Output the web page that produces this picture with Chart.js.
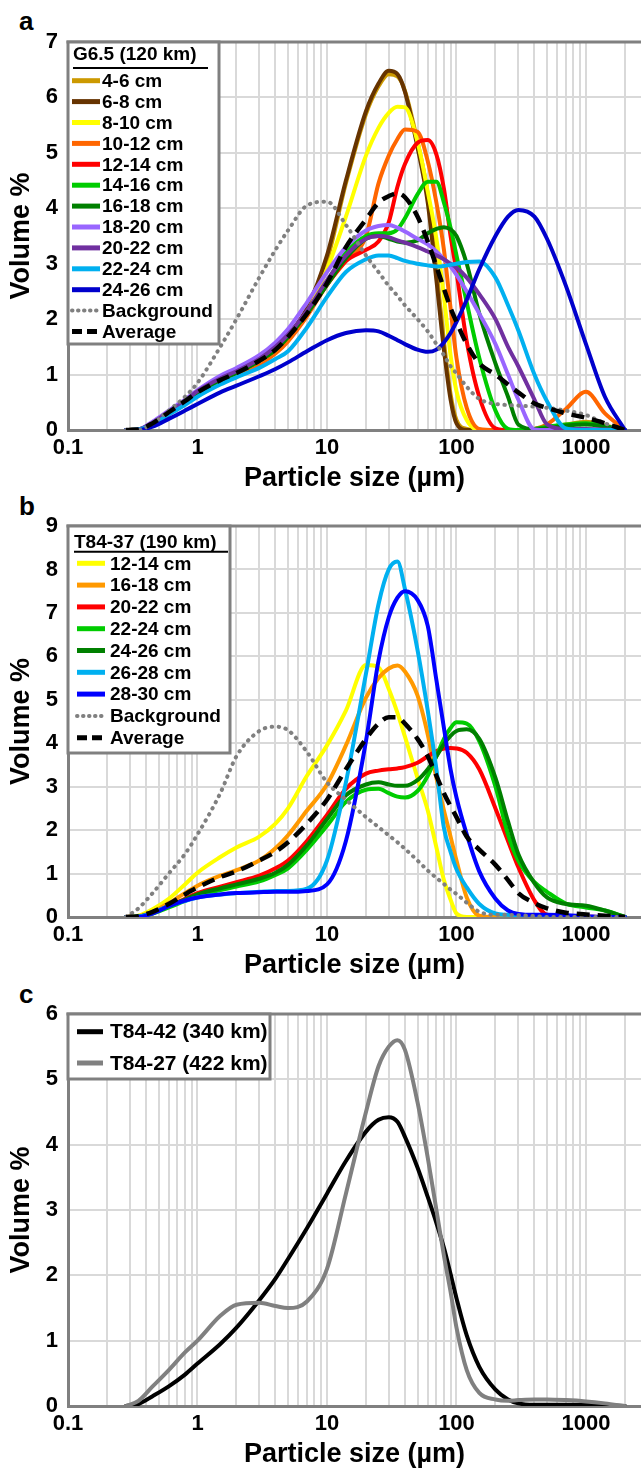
<!DOCTYPE html>
<html>
<head>
<meta charset="utf-8">
<script src="https://cdn.jsdelivr.net/npm/chart.js@4.4.1/dist/chart.umd.min.js"></script>
<style>
  html, body { margin: 0; padding: 0; background: #fff; width: 641px; height: 1469px; overflow: hidden; }
  canvas { position: absolute; left: 0; }
  .tag { position: absolute; left: 19px; font: bold 26px "Liberation Sans", Arial, sans-serif; line-height: 26px; color: #000; }
</style>
</head>
<body>
<div class="tag" style="top:8px">a</div>
<div class="tag" style="top:493px">b</div>
<div class="tag" style="top:981px">c</div>
<canvas id="chartA" width="641" height="492" style="top:0px;width:641px;height:492px"></canvas>
<canvas id="chartB" width="641" height="495" style="top:484px;width:641px;height:495px"></canvas>
<canvas id="chartC" width="641" height="496" style="top:972px;width:641px;height:496px"></canvas>
<script>
// Particle size classes (µm) shared by every distribution
const sizes = [0.28, 0.35, 0.45, 0.6, 0.8, 1, 1.5, 2, 3, 4, 5, 7, 10, 14, 20, 25, 30, 35, 40, 50,
               60, 70, 80, 90, 100, 120, 150, 200, 250, 300, 400, 500, 700, 1000, 1400, 2000];
const xTickLabels = ['0.1', '1', '10', '100', '1000'];

// ---- Core G6.5 (120 km), volume % per size class ----
const g65Labels = ['4-6 cm', '6-8 cm', '8-10 cm', '10-12 cm', '12-14 cm', '14-16 cm', '16-18 cm',
                   '18-20 cm', '20-22 cm', '22-24 cm', '24-26 cm'];
const g65_4_6   = [0,0.01,0.12,0.32,0.52,0.68,0.9,1.03,1.25,1.45,1.68,2.15,3.05,4.45,5.7,6.2,6.42,6.38,6.12,5.2,4.25,2.9,1.6,0.65,0.18,0.02,0,0,0,0,0.02,0.05,0.1,0.15,0.08,0];
const g65_6_8   = [0,0.01,0.12,0.32,0.52,0.68,0.9,1.03,1.25,1.45,1.7,2.2,3.15,4.5,5.75,6.25,6.48,6.42,6.1,5.1,4.1,2.7,1.45,0.55,0.12,0,0,0,0,0,0,0,0,0,0,0];
const g65_8_10  = [0,0.01,0.12,0.32,0.52,0.68,0.9,1.03,1.25,1.45,1.68,2.12,2.9,3.85,4.95,5.45,5.72,5.83,5.82,5.2,4.3,3.45,2.4,1.35,0.7,0.18,0,0,0,0,0,0,0,0,0,0];
const g65_10_12 = [0,0.01,0.1,0.28,0.47,0.63,0.85,0.98,1.18,1.38,1.6,2.05,2.62,3.05,3.5,4.45,4.95,5.25,5.42,5.38,4.85,4.1,3.25,2.2,1.3,0.4,0.02,0,0,0,0.02,0.1,0.38,0.69,0.3,0];
const g65_12_14 = [0,0.01,0.12,0.32,0.52,0.68,0.9,1.03,1.25,1.45,1.68,2.1,2.62,3.05,3.25,3.4,3.75,4.39,4.8,5.18,5.23,4.97,4.35,3.5,2.85,1.6,0.6,0.03,0,0,0,0,0,0,0,0];
const g65_14_16 = [0,0.01,0.12,0.32,0.52,0.68,0.9,1.03,1.25,1.45,1.68,2.12,2.68,3.2,3.5,3.55,3.55,3.62,3.82,4.25,4.48,4.48,4.1,3.65,3.15,2.3,1.3,0.35,0.02,0,0.02,0.06,0.1,0.12,0.07,0];
const g65_16_18 = [0,0.01,0.12,0.32,0.52,0.68,0.9,1.03,1.25,1.45,1.68,2.1,2.62,3.1,3.45,3.5,3.45,3.4,3.38,3.42,3.55,3.63,3.66,3.62,3.5,3.0,2.1,1.2,0.6,0.1,0.02,0.03,0.08,0.1,0.06,0];
const g65_18_20 = [0,0.01,0.15,0.35,0.55,0.72,0.98,1.12,1.35,1.58,1.82,2.3,2.85,3.3,3.6,3.68,3.7,3.65,3.58,3.45,3.35,3.22,3.08,2.95,2.8,2.5,2.1,1.55,1.0,0.55,0.01,0,0,0,0,0];
const g65_20_22 = [0,0.01,0.13,0.33,0.52,0.7,0.93,1.06,1.28,1.5,1.72,2.15,2.7,3.15,3.45,3.5,3.48,3.42,3.38,3.3,3.22,3.15,3.08,3.0,2.93,2.75,2.45,2.0,1.5,1.15,0.55,0.1,0.02,0.02,0.01,0];
const g65_22_24 = [0,0.01,0.1,0.28,0.45,0.6,0.82,0.95,1.12,1.28,1.42,1.85,2.4,2.85,3.08,3.15,3.15,3.1,3.05,3.0,2.97,2.95,2.96,2.98,3.0,3.03,3.04,2.75,2.25,1.8,1.0,0.52,0.03,0,0,0];
const g65_24_26 = [0,0,0.06,0.2,0.35,0.47,0.68,0.8,0.97,1.1,1.22,1.42,1.62,1.75,1.8,1.78,1.7,1.62,1.55,1.45,1.41,1.45,1.58,1.75,1.95,2.35,2.9,3.5,3.85,3.97,3.85,3.45,2.6,1.55,0.6,0];
const g65Background = [0,0,0.12,0.35,0.6,0.85,1.5,2.0,2.75,3.25,3.6,4.05,4.12,3.7,3.15,2.85,2.6,2.42,2.25,2.0,1.78,1.55,1.35,1.15,1.02,0.78,0.56,0.47,0.45,0.44,0.42,0.4,0.35,0.27,0.12,0];
const g65Average    = [0,0.01,0.12,0.32,0.52,0.68,0.9,1.03,1.25,1.45,1.68,2.1,2.65,3.3,3.8,4.1,4.22,4.27,4.2,3.85,3.4,2.95,2.55,2.2,1.95,1.55,1.2,1.0,0.82,0.68,0.48,0.4,0.3,0.22,0.12,0];

// ---- Core T84-37 (190 km) ----
const t37Labels = ['12-14 cm', '16-18 cm', '20-22 cm', '22-24 cm', '24-26 cm', '26-28 cm', '28-30 cm'];
const t37_12_14 = [0,0.03,0.18,0.42,0.75,1.02,1.38,1.6,1.85,2.15,2.5,3.25,3.95,4.75,5.8,5.75,5.25,4.7,4.15,3.2,2.45,1.6,0.85,0.4,0.08,0,0,0,0,0,0,0,0,0,0,0];
const t37_16_18 = [0,0.02,0.12,0.32,0.55,0.72,0.95,1.08,1.3,1.58,1.88,2.45,3.05,3.95,5.05,5.5,5.72,5.79,5.65,5.1,4.2,3.2,2.45,1.85,1.3,0.45,0.03,0,0,0,0,0,0,0,0,0];
const t37_20_22 = [0,0.01,0.1,0.25,0.42,0.55,0.7,0.8,0.95,1.12,1.3,1.75,2.35,2.95,3.3,3.37,3.4,3.42,3.45,3.55,3.7,3.82,3.88,3.89,3.88,3.78,3.4,2.5,1.75,1.15,0.38,0.05,0.02,0.01,0,0];
const t37_22_24 = [0,0.01,0.08,0.22,0.37,0.48,0.62,0.7,0.82,0.97,1.12,1.55,2.1,2.65,2.93,2.95,2.85,2.77,2.75,2.9,3.25,3.7,4.1,4.35,4.48,4.45,4.05,3.0,1.9,1.3,0.8,0.58,0.31,0.22,0.15,0];
const t37_24_26 = [0,0.01,0.1,0.25,0.4,0.52,0.66,0.75,0.88,1.02,1.2,1.65,2.25,2.8,3.05,3.1,3.05,3.02,3.02,3.15,3.4,3.7,3.98,4.17,4.28,4.32,4.1,3.2,2.2,1.45,0.78,0.45,0.3,0.26,0.15,0];
const t37_26_28 = [0,0.01,0.1,0.25,0.37,0.45,0.52,0.55,0.58,0.6,0.6,0.65,1.3,3.1,5.6,7.2,8.0,8.18,7.55,6.15,4.75,3.4,2.05,1.5,1.1,0.68,0.3,0.08,0.05,0.03,0.02,0,0,0,0,0];
const t37_28_30 = [0,0,0.08,0.25,0.38,0.45,0.52,0.55,0.57,0.58,0.58,0.6,0.75,1.75,4.05,5.9,6.9,7.35,7.5,7.3,6.7,5.45,4.35,3.4,2.75,1.9,1.05,0.42,0.15,0.07,0.05,0.05,0.04,0.02,0,0];
const t37Background = [0,0.2,0.55,1.0,1.45,1.9,2.85,3.7,4.28,4.38,4.3,3.8,3.1,2.7,2.3,2.07,1.88,1.72,1.57,1.3,1.07,0.9,0.76,0.63,0.53,0.33,0.12,0.05,0.05,0.04,0.02,0,0,0,0,0];
const t37Average    = [0,0.02,0.12,0.3,0.52,0.68,0.92,1.05,1.3,1.5,1.72,2.15,2.7,3.4,4.1,4.45,4.6,4.6,4.45,4.1,3.7,3.25,2.85,2.55,2.3,1.85,1.55,1.2,0.85,0.55,0.32,0.2,0.1,0.06,0.03,0];

// ---- Cores T84-42 (340 km) and T84-27 (422 km) ----
const farLabels = ['T84-42 (340 km)', 'T84-27 (422 km)'];
const t42 = [0,0.03,0.15,0.3,0.48,0.65,0.95,1.2,1.62,1.95,2.25,2.72,3.25,3.75,4.2,4.38,4.42,4.35,4.12,3.65,3.2,2.8,2.42,2.02,1.65,1.08,0.6,0.25,0.1,0.04,0.02,0.02,0.02,0.02,0.01,0];
const t27 = [0,0.08,0.3,0.55,0.82,1.0,1.38,1.55,1.58,1.53,1.5,1.6,2.1,3.25,4.5,5.2,5.5,5.6,5.45,4.65,3.8,3.0,2.3,1.75,1.2,0.55,0.2,0.1,0.08,0.09,0.1,0.1,0.09,0.07,0.04,0];

const FONT = '"Liberation Sans", Arial, Helvetica, sans-serif';
const AXIS_GREY = '#808080';
const GRID_GREY = '#d9d9d9';

// log-axis gridlines: 1..9 × each decade, plus 2000
const gridValues = [];
for (let e = -1; e <= 3; e++) {
  for (let m = 1; m <= 9; m++) gridValues.push(Number((m * Math.pow(10, e)).toPrecision(3)));
}
gridValues.push(2000);

function line(label, data, color, kind, idx, total) {
  const ds = {
    label, data, borderColor: color, backgroundColor: color,
    borderWidth: 4, pointRadius: 0, pointHoverRadius: 0, fill: false,
    cubicInterpolationMode: 'monotone', borderCapStyle: 'round', borderJoinStyle: 'round',
    order: total - idx
  };
  if (kind === 'dot') { ds.borderDash = [0.5, 6.5]; ds.borderCapStyle = 'round'; ds.borderWidth = 4; }
  if (kind === 'dash') { ds.borderDash = [13, 8]; ds.borderCapStyle = 'butt'; ds.borderWidth = 4.5; }
  ds.kind = kind || 'solid';
  return ds;
}

// Frame top edge + boxed legend drawn inside the plot
const legendBox = {
  id: 'legendBox',
  afterDraw(chart, args, o) {
    const { ctx, chartArea: ca } = chart;
    ctx.save();
    ctx.strokeStyle = AXIS_GREY;
    ctx.lineWidth = 3;
    ctx.beginPath(); ctx.moveTo(ca.left - 1.5, ca.top); ctx.lineTo(ca.right, ca.top); ctx.stroke();

    const [x0, y0, x1, y1] = o.box;
    ctx.fillStyle = '#fff';
    ctx.fillRect(x0, y0, x1 - x0, y1 - y0);
    ctx.strokeRect(x0, y0, x1 - x0, y1 - y0);

    ctx.font = 'bold ' + o.fontSize + 'px ' + FONT;
    ctx.textBaseline = 'middle';
    ctx.textAlign = 'left';
    if (o.title) {
      ctx.fillStyle = '#000';
      ctx.fillText(o.title, o.titleX, o.titleY);
      ctx.lineWidth = 2;
      ctx.strokeStyle = '#000';
      ctx.beginPath(); ctx.moveTo(o.underline[0], o.underline[2]); ctx.lineTo(o.underline[1], o.underline[2]); ctx.stroke();
    }
    chart.data.datasets.forEach((ds, i) => {
      const y = o.rowY0 + i * o.rowGap;
      ctx.save();
      ctx.strokeStyle = ds.borderColor;
      if (ds.kind === 'dot') { ctx.setLineDash([0.5, 5.5]); ctx.lineCap = 'round'; ctx.lineWidth = 4; }
      else if (ds.kind === 'dash') { ctx.setLineDash([10, 5]); ctx.lineCap = 'butt'; ctx.lineWidth = 5; }
      else { ctx.setLineDash([]); ctx.lineCap = 'butt'; ctx.lineWidth = 5; }
      ctx.beginPath(); ctx.moveTo(o.sample[0], y); ctx.lineTo(o.sample[1], y); ctx.stroke();
      ctx.restore();
      ctx.fillStyle = '#000';
      ctx.fillText(ds.label, o.textX, y + 1);
    });
    ctx.restore();
  }
};

function makeChart(id, datasets, yMax, legendOpts) {
  return new Chart(document.getElementById(id), {
    type: 'line',
    data: { labels: sizes, datasets },
    options: {
      responsive: false,
      animation: false,
      events: [],
      layout: { padding: { top: 42, left: 0, right: 0, bottom: 0 } },
      plugins: { legend: { display: false }, tooltip: { enabled: false }, legendBox: legendOpts },
      scales: {
        x: {
          type: 'logarithmic', min: 0.1, max: 2660,
          afterBuildTicks: s => { s.ticks = gridValues.map(v => ({ value: v })); },
          afterFit: s => { s.height = 62; },
          grid: { color: GRID_GREY, lineWidth: 2, drawTicks: false },
          border: { color: AXIS_GREY, width: 3 },
          ticks: {
            autoSkip: false, maxRotation: 0, padding: 5,
            color: '#000', font: { family: FONT, size: 22, weight: 'bold' },
            callback: v => (xTickLabels.includes(String(v)) ? String(v) : '')
          },
          title: { display: true, text: 'Particle size (µm)', color: '#000',
                   font: { family: FONT, size: 27, weight: 'bold', lineHeight: 1 }, padding: { top: 0, bottom: 0 } }
        },
        y: {
          min: 0, max: yMax,
          afterFit: s => { s.width = 68; },
          grid: { color: GRID_GREY, lineWidth: 2, drawTicks: false },
          border: { color: AXIS_GREY, width: 3 },
          ticks: { stepSize: 1, padding: 10, color: '#000', font: { family: FONT, size: 22, weight: 'bold' } },
          title: { display: true, text: 'Volume %', color: '#000',
                   font: { family: FONT, size: 27, weight: 'bold', lineHeight: 1 }, padding: { top: 8, bottom: 0 } }
        }
      }
    },
    plugins: [legendBox]
  });
}

// Panel a
const colorsA = ['#cc9900', '#663300', '#ffff00', '#ff6600', '#ff0000', '#00cc00', '#008000',
                 '#9966ff', '#7030a0', '#00b0f0', '#0000cc'];
const dataA = [g65_4_6, g65_6_8, g65_8_10, g65_10_12, g65_12_14, g65_14_16, g65_16_18,
               g65_18_20, g65_20_22, g65_22_24, g65_24_26];
const nA = dataA.length + 2;
const setsA = dataA.map((d, i) => line(g65Labels[i], d, colorsA[i], 'solid', i, nA));
setsA.push(line('Background', g65Background, '#808080', 'dot', nA - 2, nA));
setsA.push(line('Average', g65Average, '#000000', 'dash', nA - 1, nA));
makeChart('chartA', setsA, 7, {
  box: [68, 42, 219, 344], fontSize: 19,
  title: 'G6.5 (120 km)', titleX: 73, titleY: 55, underline: [73, 208, 68],
  rowY0: 80.7, rowGap: 20.9, sample: [72, 100], textX: 102
});

// Panel b
const colorsB = ['#ffff00', '#ff9900', '#ff0000', '#00cc00', '#008000', '#00b0f0', '#0000ff'];
const dataB = [t37_12_14, t37_16_18, t37_20_22, t37_22_24, t37_24_26, t37_26_28, t37_28_30];
const nB = dataB.length + 2;
const setsB = dataB.map((d, i) => line(t37Labels[i], d, colorsB[i], 'solid', i, nB));
setsB.push(line('Background', t37Background, '#808080', 'dot', nB - 2, nB));
setsB.push(line('Average', t37Average, '#000000', 'dash', nB - 1, nB));
makeChart('chartB', setsB, 9, {
  box: [68, 42, 230, 269], fontSize: 19,
  title: 'T84-37 (190 km)', titleX: 74, titleY: 58.7, underline: [74, 228, 67.7],
  rowY0: 79.3, rowGap: 21.8, sample: [77, 105], textX: 110
});

// Panel c
const setsC = [line(farLabels[0], t42, '#000000', 'solid', 0, 2),
               line(farLabels[1], t27, '#808080', 'solid', 1, 2)];
makeChart('chartC', setsC, 6, {
  box: [68, 42, 270, 107], fontSize: 21,
  title: null, rowY0: 59.7, rowGap: 31.3, sample: [77, 103], textX: 110
});
</script>
</body>
</html>
